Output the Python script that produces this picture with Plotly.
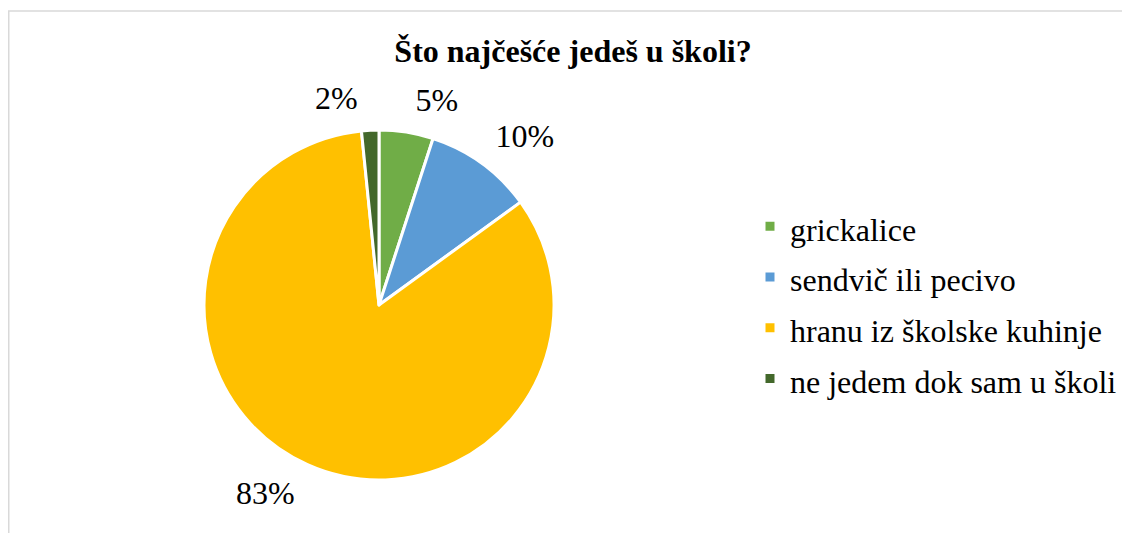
import plotly.graph_objects as go

# ---- data ----
categories = ["grickalice", "sendvič ili pecivo", "hranu iz školske kuhinje", "ne jedem dok sam u školi"]
values = [5.0, 10.0, 83.4, 1.6]
title_text = "Što najčešće jedeš u školi?"

# ---- style ----
colors = ["#70AD47", "#5B9BD5", "#FFC000", "#43682B"]
FONT = "Liberation Serif, Times New Roman, serif"
TEXT_PX = 32
# blank padding line per label (pushes the label away from the pie), with its size
pad_side = ["none", "below", "above", "below"]
pad_size = [16, 16.4, 19.9, 13.8]

# The browser page has an 8 px body margin; the figure is sized to fit inside the window.
W, H = 1122, 525
OFF = 8


def px_x(page_x):
    return (page_x - OFF) / W


def px_y(page_y):
    return 1 - (page_y - OFF) / H


cx, cy, r = 379, 305, 175  # pie center / radius in page pixels

texttemplates = []
for side in pad_side:
    vis = f'<span style="font-size:{TEXT_PX}px;color:black">%{{percent:.0%}}</span>'
    if side == "below":
        texttemplates.append(vis + "<br>&nbsp;")
    elif side == "above":
        texttemplates.append("&nbsp;<br>" + vis)
    else:
        texttemplates.append(vis)

fig = go.Figure(
    go.Pie(
        labels=[f'<span style="font-size:{TEXT_PX}px">{c}</span>' for c in categories],
        values=values,
        sort=False,
        direction="clockwise",
        rotation=0,
        marker=dict(colors=colors, line=dict(color="white", width=3)),
        textposition="outside",
        texttemplate=texttemplates,
        textfont=dict(family=FONT, size=pad_size, color="white"),
        hovertemplate="%{label}: %{percent}<extra></extra>",
        domain=dict(
            x=[px_x(cx - r), px_x(cx + r)],
            y=[px_y(cy + r), px_y(cy - r)],
        ),
    )
)

fig.update_layout(
    width=W,
    height=H,
    margin=dict(l=0, r=0, t=0, b=0),
    paper_bgcolor="white",
    plot_bgcolor="white",
    font=dict(family=FONT, color="black"),
    title=dict(
        text=f"<b>{title_text}</b>",
        font=dict(family=FONT, size=32, color="black"),
        x=px_x(573),
        xanchor="center",
        y=px_y(50.5),
        yanchor="middle",
    ),
    showlegend=True,
    legend=dict(
        font=dict(family=FONT, size=36.7, color="black"),
        x=px_x(750),
        xanchor="left",
        y=px_y(302.5),
        yanchor="middle",
        bgcolor="rgba(0,0,0,0)",
    ),
    shapes=[
        dict(
            type="rect",
            xref="paper",
            yref="paper",
            x0=0.75 / W,
            x1=1.02,
            y0=-0.02,
            y1=px_y(11),
            line=dict(color="#D9D9D9", width=1.5),
            fillcolor="rgba(0,0,0,0)",
            layer="below",
        )
    ],
)

fig.write_html("out.html")
